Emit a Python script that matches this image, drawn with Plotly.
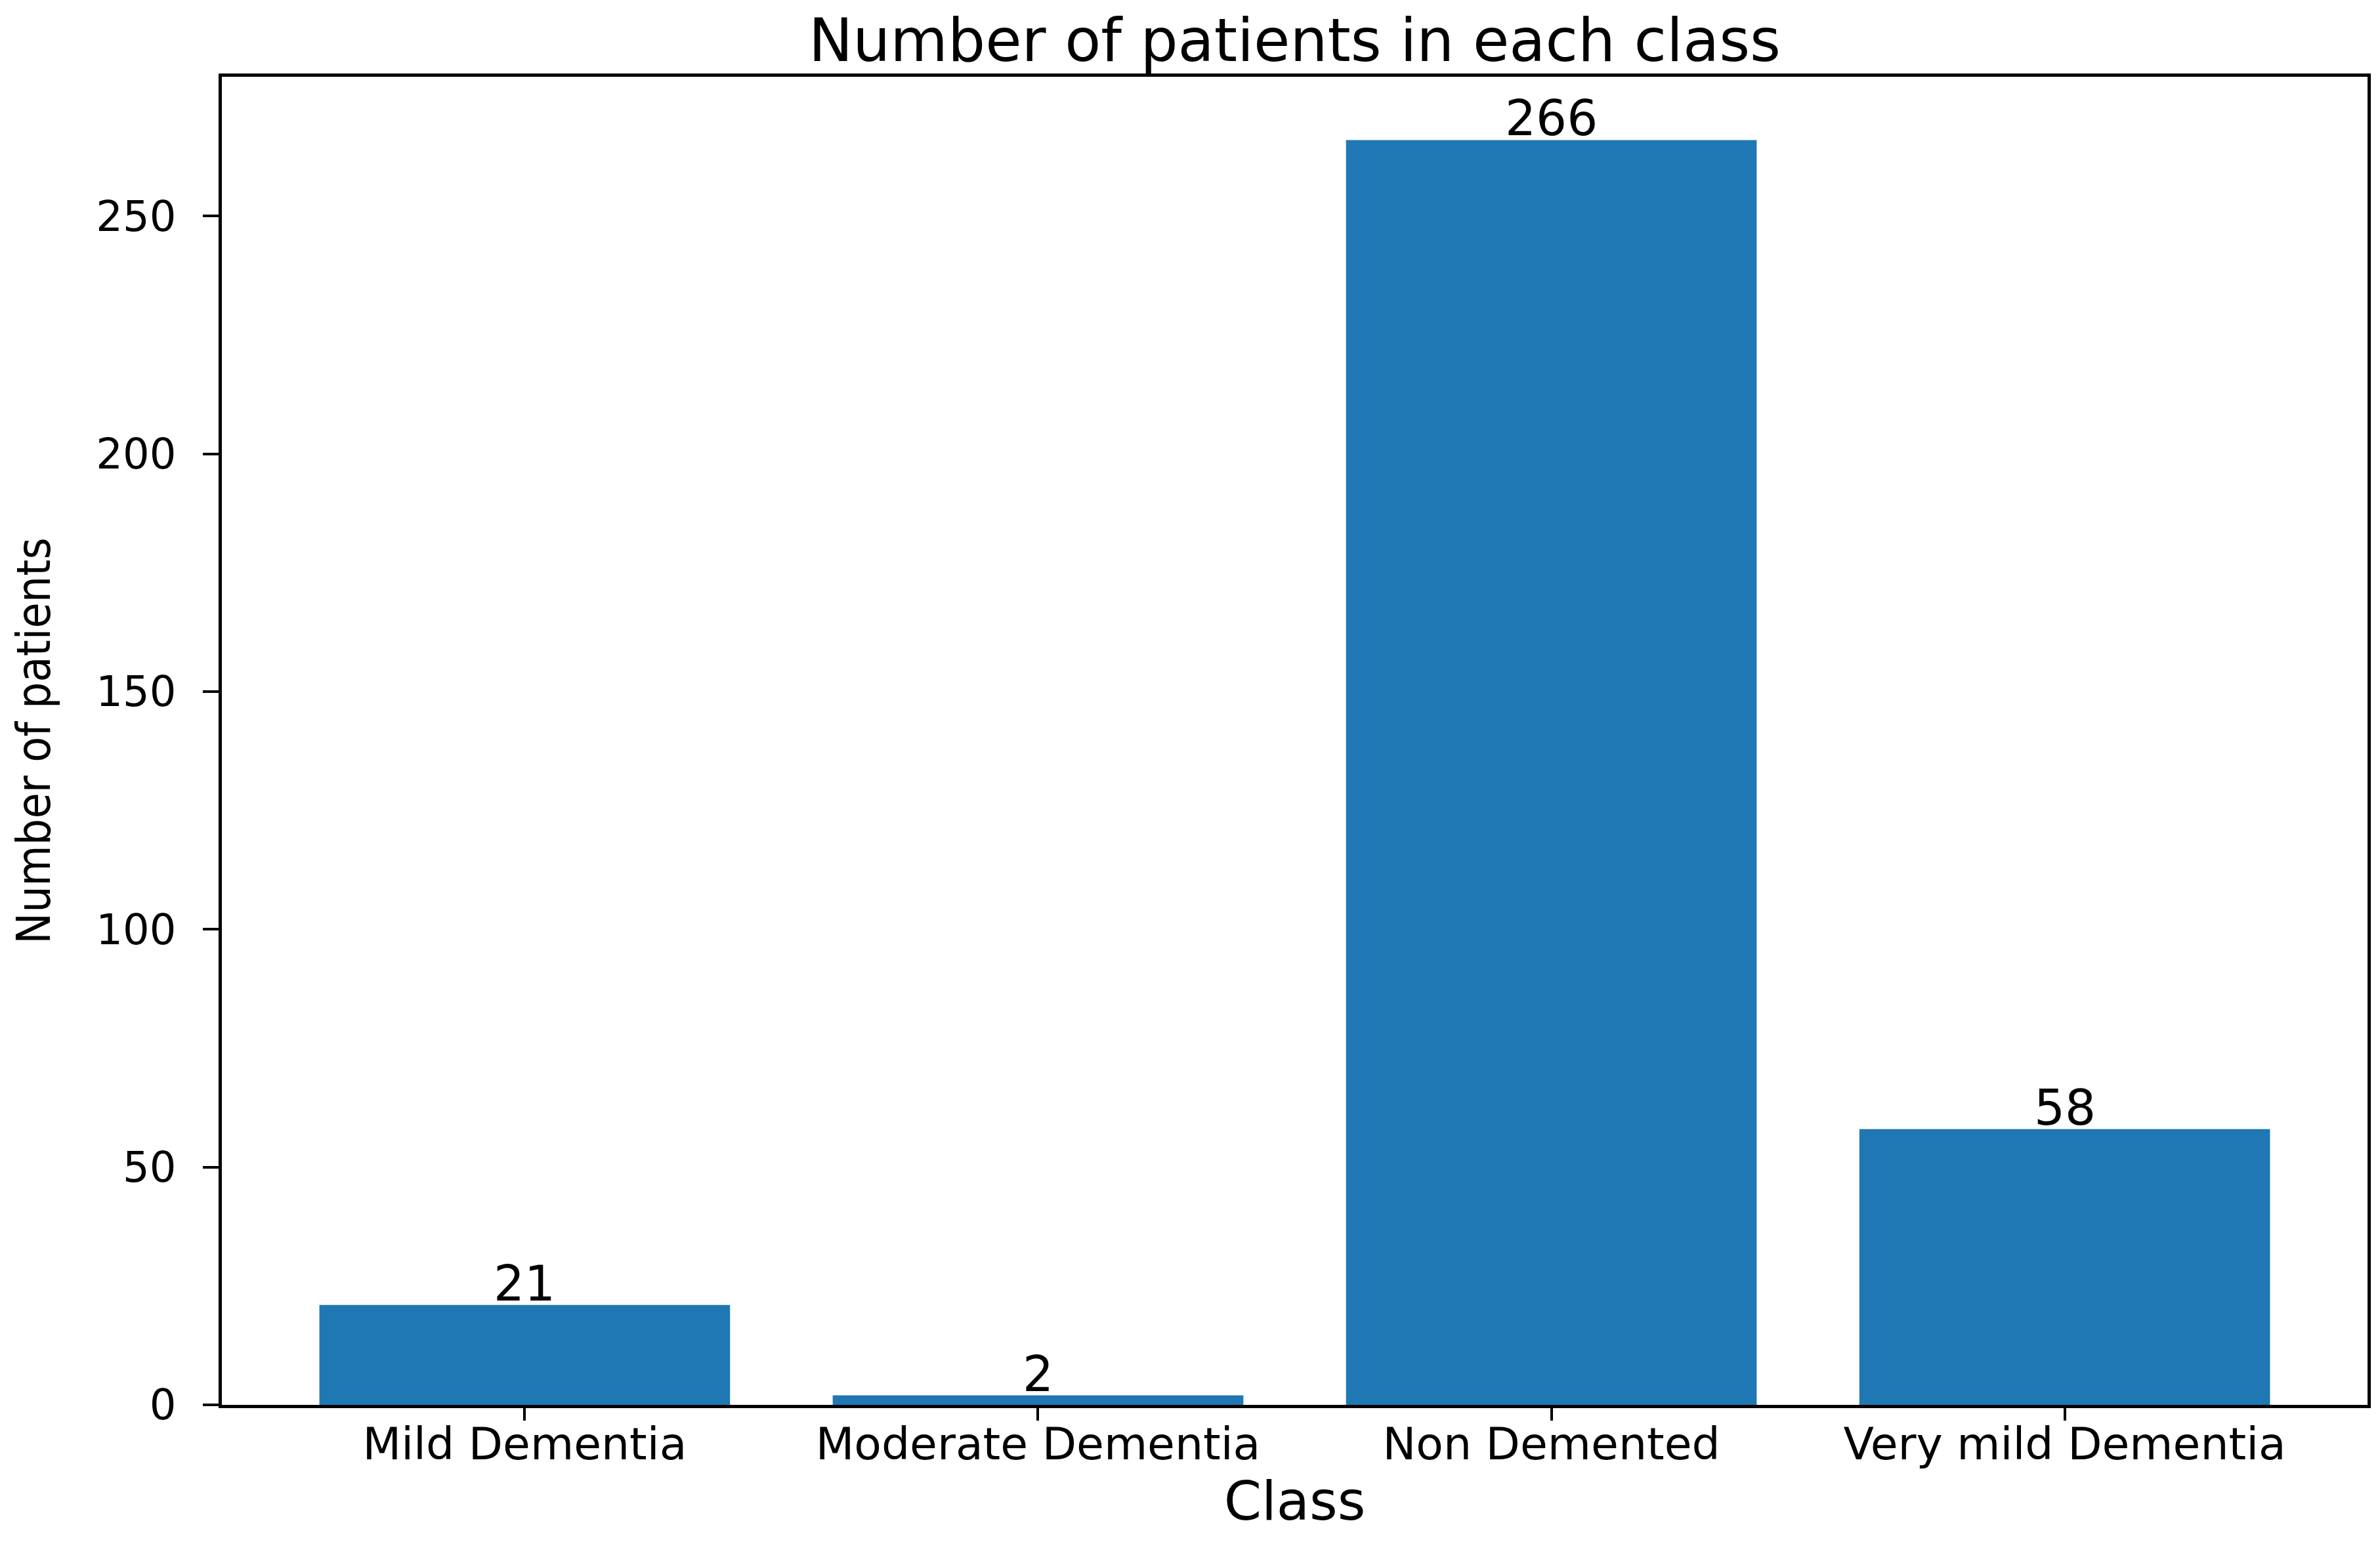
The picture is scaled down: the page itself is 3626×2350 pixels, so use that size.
import plotly.graph_objects as go

categories = ["Mild Dementia", "Moderate Dementia", "Non Demented", "Very mild Dementia"]
patients = [21, 2, 266, 58]
y_ticks = [0, 50, 100, 150, 200, 250]

BLUE = "#1f77b4"
FONT = "DejaVu Sans"

fig = go.Figure()
fig.add_trace(go.Bar(x=categories, y=patients, marker=dict(color=BLUE, line=dict(width=0)),
                     showlegend=False, hoverinfo="x+y"))

for c, v in zip(categories, patients):
    fig.add_annotation(x=c, y=v, text=str(v), showarrow=False, yanchor="bottom",
                       xanchor="center", yshift=-12,
                       font=dict(family=FONT, size=74, color="black"))

ymax = max(patients) * 1.05
n = len(categories)
xpad = (n - 1 + 0.8) * 0.05

fig.update_layout(
    width=3626, height=2350,
    margin=dict(l=330, r=27, t=109, b=217, autoexpand=False),
    paper_bgcolor="white", plot_bgcolor="white",
    bargap=0.2,
    title=dict(text="Number of patients in each class", x=0.5, xref="paper", xanchor="center",
               y=1 - 53 / 2350, yref="container", yanchor="middle",
               font=dict(family=FONT, size=90, color="black")),
    xaxis=dict(
        type="category", range=[-0.4 - xpad, n - 1 + 0.4 + xpad], automargin=False,
        showline=True, linecolor="black", linewidth=4.5, mirror=True,
        ticks="outside", ticklen=19, tickwidth=4, tickcolor="black",
        tickfont=dict(family=FONT, size=68, color="black"), ticklabelstandoff=-22,
        showgrid=False, zeroline=False,
        title=dict(text="Class", font=dict(family=FONT, size=82, color="black"), standoff=0),
    ),
    yaxis=dict(
        range=[0, ymax], tickvals=y_ticks, automargin=False,
        showline=True, linecolor="black", linewidth=4.5, mirror=True,
        ticks="outside", ticklen=24, tickwidth=4, tickcolor="black",
        tickfont=dict(family=FONT, size=64, color="black"), ticklabelstandoff=28,
        showgrid=False, zeroline=False,
        title=dict(text="Number of patients",
                   font=dict(family="DejaVu Sans Condensed, Roboto", size=71, color="black"),
                   standoff=48),
    ),
)

fig.write_html("out.html")
